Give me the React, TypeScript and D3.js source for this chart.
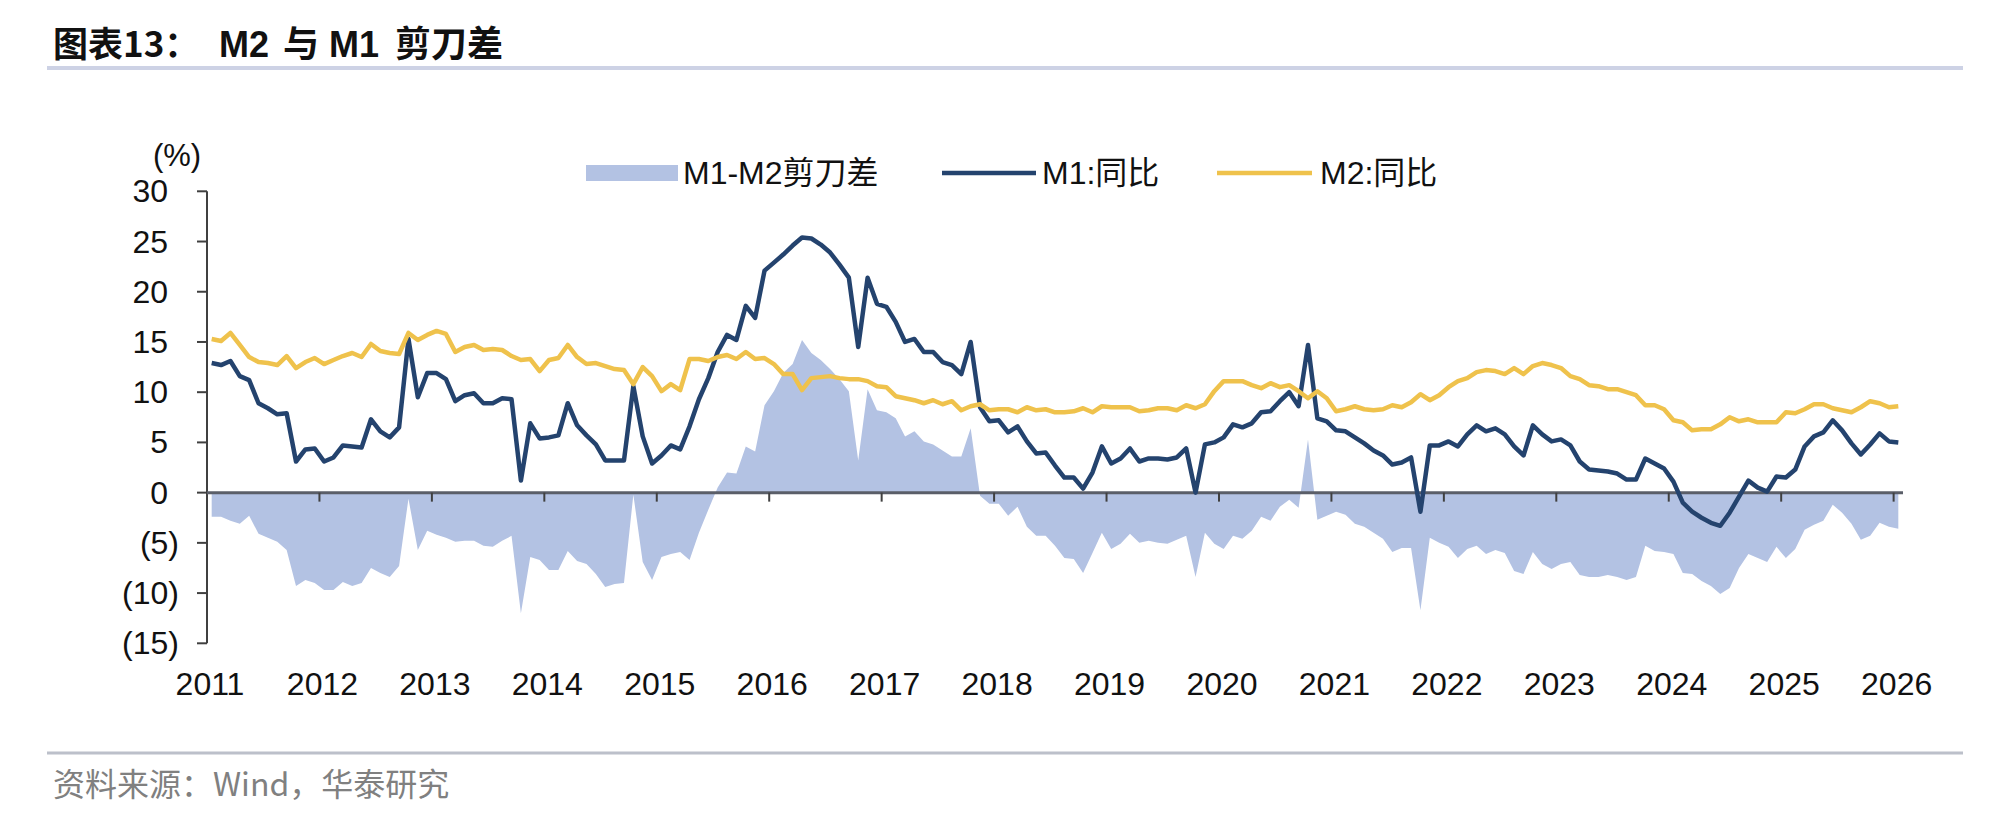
import * as d3 from 'd3';

// monthly YoY, Apr 2011 .. Apr 2026
const m1Yoy: number[] = [
  // 2011 Apr-Dec
  12.9, 12.7, 13.1, 11.6, 11.2, 8.9, 8.4, 7.8, 7.9,
  // 2012
  3.1, 4.3, 4.4, 3.1, 3.5, 4.7, 4.6, 4.5, 7.3, 6.1, 5.5, 6.5,
  // 2013
  15.3, 9.5, 11.9, 11.9, 11.3, 9.1, 9.7, 9.9, 8.9, 8.9, 9.4, 9.3,
  // 2014
  1.2, 6.9, 5.4, 5.5, 5.7, 8.9, 6.7, 5.7, 4.8, 3.2, 3.2, 3.2,
  // 2015
  10.6, 5.6, 2.9, 3.7, 4.7, 4.3, 6.6, 9.3, 11.4, 14.0, 15.7, 15.2,
  // 2016
  18.6, 17.4, 22.1, 22.9, 23.7, 24.6, 25.4, 25.3, 24.7, 23.9, 22.7, 21.4,
  // 2017
  14.5, 21.4, 18.8, 18.5, 17.0, 15.0, 15.3, 14.0, 14.0, 13.0, 12.7, 11.8,
  // 2018
  15.0, 8.5, 7.1, 7.2, 6.0, 6.6, 5.1, 3.9, 4.0, 2.7, 1.5, 1.5,
  // 2019
  0.4, 2.0, 4.6, 2.9, 3.4, 4.4, 3.1, 3.4, 3.4, 3.3, 3.5, 4.4,
  // 2020
  0.0, 4.8, 5.0, 5.5, 6.8, 6.5, 6.9, 8.0, 8.1, 9.1, 10.0, 8.6,
  // 2021
  14.7, 7.4, 7.1, 6.2, 6.1, 5.5, 4.9, 4.2, 3.7, 2.8, 3.0, 3.5,
  // 2022
  -1.9, 4.7, 4.7, 5.1, 4.6, 5.8, 6.7, 6.1, 6.4, 5.8, 4.6, 3.7,
  // 2023
  6.7, 5.8, 5.1, 5.3, 4.7, 3.1, 2.3, 2.2, 2.1, 1.9, 1.3, 1.3,
  // 2024
  3.4, 2.9, 2.4, 1.1, -1.0, -1.9, -2.5, -3.0, -3.3, -2.0, -0.4, 1.2,
  // 2025
  0.5, 0.1, 1.6, 1.5, 2.3, 4.6, 5.6, 6.0, 7.2, 6.2, 4.9, 3.8,
  // 2026 Jan-Apr
  4.8, 5.9, 5.1, 5.0,
];

const m2Yoy: number[] = [
  15.3, 15.1, 15.9, 14.7, 13.5, 13.0, 12.9, 12.7, 13.6,
  12.4, 13.0, 13.4, 12.8, 13.2, 13.6, 13.9, 13.5, 14.8, 14.1, 13.9, 13.8,
  15.9, 15.2, 15.7, 16.1, 15.8, 14.0, 14.5, 14.7, 14.2, 14.3, 14.2, 13.6,
  13.2, 13.3, 12.1, 13.2, 13.4, 14.7, 13.5, 12.8, 12.9, 12.6, 12.3, 12.2,
  10.8, 12.5, 11.6, 10.1, 10.8, 10.2, 13.3, 13.3, 13.1, 13.5, 13.7, 13.3,
  14.0, 13.3, 13.4, 12.8, 11.8, 11.8, 10.2, 11.4, 11.5, 11.6, 11.4, 11.3,
  11.3, 11.1, 10.6, 10.5, 9.6, 9.4, 9.2, 8.9, 9.2, 8.8, 9.1, 8.2,
  8.6, 8.8, 8.2, 8.3, 8.3, 8.0, 8.5, 8.2, 8.3, 8.0, 8.0, 8.1,
  8.4, 8.0, 8.6, 8.5, 8.5, 8.5, 8.1, 8.2, 8.4, 8.4, 8.2, 8.7,
  8.4, 8.8, 10.1, 11.1, 11.1, 11.1, 10.7, 10.4, 10.9, 10.5, 10.7, 10.1,
  9.4, 10.1, 9.4, 8.1, 8.3, 8.6, 8.3, 8.2, 8.3, 8.7, 8.5, 9.0,
  9.8, 9.2, 9.7, 10.5, 11.1, 11.4, 12.0, 12.2, 12.1, 11.8, 12.4, 11.8,
  12.6, 12.9, 12.7, 12.4, 11.6, 11.3, 10.7, 10.6, 10.3, 10.3, 10.0, 9.7,
  8.7, 8.7, 8.3, 7.2, 7.0, 6.2, 6.3, 6.3, 6.8, 7.5, 7.1, 7.3,
  7.0, 7.0, 7.0, 8.0, 7.9, 8.3, 8.8, 8.8, 8.4, 8.2, 8.0, 8.5,
  9.1, 8.9, 8.5, 8.6,
];

const yearLabels = ['2011', '2012', '2013', '2014', '2015', '2016', '2017', '2018',
  '2019', '2020', '2021', '2022', '2023', '2024', '2025', '2026'];
const yTicks = [30, 25, 20, 15, 10, 5, 0, -5, -10, -15];

const W = 1998;
const H = 819;
const FONT = "'Liberation Sans', Arial, 'Noto Sans CJK SC', sans-serif";
const CJK = "'Noto Sans CJK SC', 'Liberation Sans', sans-serif";

const C_AREA = '#b3c2e3';
const C_M1 = '#24436e';
const C_M2 = '#efc24c';

export default function App() {
  const n = m1Yoy.length;
  const x = d3.scaleLinear().domain([-0.5, n - 0.5]).range([207, 1903]);
  const y = d3.scaleLinear().domain([-15, 30]).range([643.3, 191.3]);
  const idx = d3.range(n);

  const spread = d3
    .area<number>()
    .x((i) => x(i))
    .y0(y(0))
    .y1((i) => y(m1Yoy[i] - m2Yoy[i]));
  const line = (vals: number[]) =>
    d3
      .line<number>()
      .x((i) => x(i))
      .y((i) => y(vals[i]))(idx) ?? '';

  const fmt = (v: number) => (v < 0 ? `(${Math.abs(v)})` : `${v}`);

  return (
    <div style={{ position: 'absolute', left: 0, top: 0 }}>
      <svg width={W} height={H} style={{ display: 'block', background: '#fff' }}>
        <g fontFamily={CJK} fontWeight="bold" fill="#111">
          <text x={53} y={57} fontSize={35}>图表13：</text>
          <text x={219} y={57} fontSize={36} fontFamily={FONT}>M2</text>
          <text x={283} y={57} fontSize={36}>与</text>
          <text x={329} y={57} fontSize={36} fontFamily={FONT}>M1</text>
          <text x={395} y={57} fontSize={36} letterSpacing={0}>剪刀差</text>
        </g>
        <line x1={47} x2={1963} y1={68} y2={68} stroke="#cdd2e5" strokeWidth={4} />

        {/* legend */}
        <g fontFamily={FONT} fontSize={32} fill="#111">
          <rect x={586} y={165} width={92} height={16} fill={C_AREA} />
          <text x={683} y={184}>M1-M2剪刀差</text>
          <line x1={942} x2={1036} y1={173} y2={173} stroke={C_M1} strokeWidth={4.5} />
          <text x={1042} y={184}>M1:同比</text>
          <line x1={1217} x2={1312} y1={173} y2={173} stroke={C_M2} strokeWidth={4.5} />
          <text x={1320} y={184}>M2:同比</text>
        </g>

        <path d={spread(idx) ?? ''} fill={C_AREA} />

        {/* y axis */}
        <line x1={207} x2={207} y1={y(30)} y2={y(-15)} stroke="#404040" strokeWidth={2} />
        {yTicks.map((v) => (
          <g key={v}>
            <line x1={197} x2={207} y1={y(v)} y2={y(v)} stroke="#404040" strokeWidth={2} />
            <text
              x={v < 0 ? 179 : 168}
              y={y(v) + 11}
              textAnchor="end"
              fontFamily={FONT}
              fontSize={32}
              fill="#111"
            >
              {fmt(v)}
            </text>
          </g>
        ))}
        <text x={177} y={166} textAnchor="middle" fontFamily={FONT} fontSize={31} fill="#111">
          (%)
        </text>

        {/* x axis at zero */}
        <line x1={207} x2={1903} y1={y(0)} y2={y(0)} stroke="#5a5e68" strokeWidth={3} />
        {yearLabels.map((lab, k) => {
          const tx = x(-0.5 + 12 * k);
          return (
            <g key={lab}>
              {k > 0 && <line x1={tx} x2={tx} y1={y(0)} y2={y(0) + 9} stroke="#404040" strokeWidth={2} />}
              <text x={tx + 3} y={695} textAnchor="middle" fontFamily={FONT} fontSize={32} fill="#111">
                {lab}
              </text>
            </g>
          );
        })}

        <path d={line(m1Yoy)} fill="none" stroke={C_M1} strokeWidth={4.5} strokeLinejoin="round" />
        <path d={line(m2Yoy)} fill="none" stroke={C_M2} strokeWidth={4.5} strokeLinejoin="round" />

        <line x1={47} x2={1963} y1={753} y2={753} stroke="#bcc0ca" strokeWidth={3} />
        <text x={53} y={796} fontFamily={CJK} fontSize={32} fill="#808080">
          资料来源：Wind，华泰研究
        </text>
      </svg>
    </div>
  );
}
